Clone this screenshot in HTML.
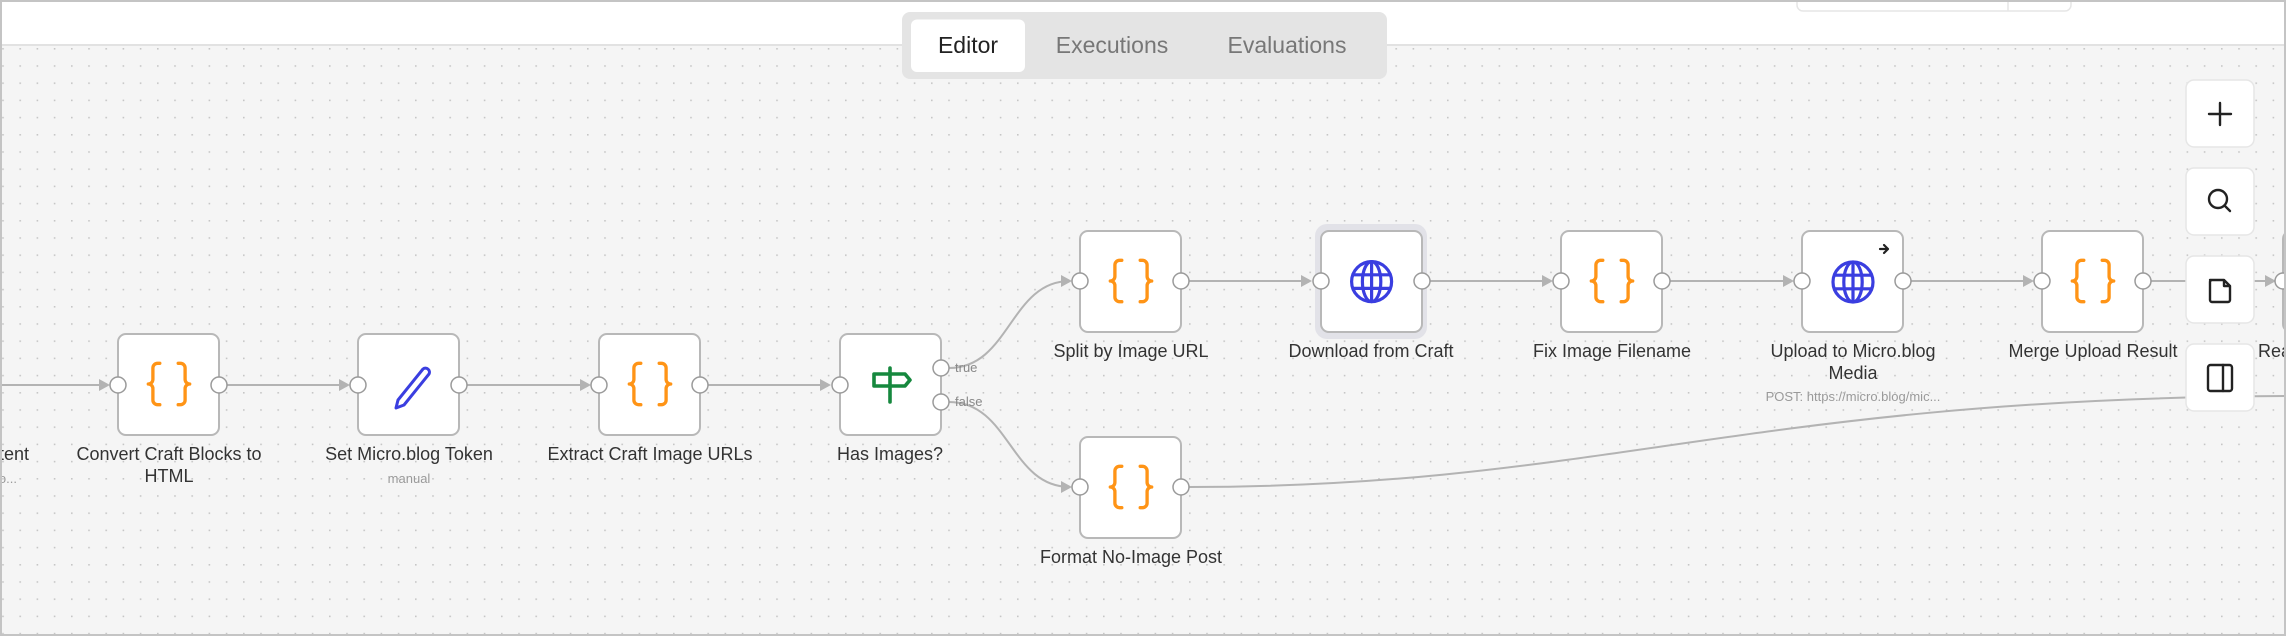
<!DOCTYPE html>
<html><head><meta charset="utf-8"><style>
html,body{margin:0;padding:0;width:2286px;height:636px;overflow:hidden;background:#fff}
svg{display:block;font-family:"Liberation Sans",sans-serif}
</style></head><body>
<svg width="2286" height="636" viewBox="0 0 2286 636" xmlns="http://www.w3.org/2000/svg">
<defs>
<pattern id="dots" x="2.2" y="48" width="17.2" height="17.2" patternUnits="userSpaceOnUse">
<rect x="0" y="0" width="1.6" height="1.6" fill="#c6c6c6"/>
</pattern>
<g id="braces" fill="none" stroke="#ff9416" stroke-width="1.45" stroke-linecap="round" stroke-linejoin="round">
<path d="M8 3H7a2 2 0 0 0-2 2v5a2 2 0 0 1-2 2 2 2 0 0 1 2 2v5c0 1.1.9 2 2 2h1"/>
<path d="M16 21h1a2 2 0 0 0 2-2v-5c0-1.1.9-2 2-2a2 2 0 0 1-2-2V5a2 2 0 0 0-2-2h-1"/>
</g>
<g id="globe" fill="none" stroke="#3a3ee0" stroke-width="1.6">
<circle cx="12" cy="12" r="10"/>
<ellipse cx="12" cy="12" rx="4.6" ry="10"/>
<path d="M12 2v20M2.6 8.6h18.8M2.6 15.4h18.8"/>
</g>
<path id="arr" d="M0 0 L-11 -6 L-11 6 Z" fill="#b3b3b3"/>
</defs>
<rect x="0" y="0" width="2286" height="636" fill="#f5f5f5"/>
<rect x="0" y="46" width="2286" height="590" fill="url(#dots)"/>
<rect x="0" y="0" width="2286" height="44" fill="#fff"/>
<rect x="0" y="44" width="2286" height="2" fill="#e2e2e2"/>
<rect x="1797" y="-10" width="274" height="21" rx="6" fill="#fff" stroke="#e6e6e6" stroke-width="1.5"/>
<line x1="2008" y1="0" x2="2008" y2="11" stroke="#e6e6e6" stroke-width="1.5"/>
<rect x="902" y="12" width="485" height="67" rx="8" fill="#e4e4e4"/>
<rect x="911" y="19.5" width="114" height="52.5" rx="6" fill="#fff"/>
<text x="968" y="53" font-size="23" fill="#222" text-anchor="middle">Editor</text>
<text x="1112" y="53" font-size="23" fill="#777" text-anchor="middle">Executions</text>
<text x="1287" y="53" font-size="23" fill="#777" text-anchor="middle">Evaluations</text>

<g fill="none" stroke="#b3b3b3" stroke-width="2">
<path d="M0 385H108"/>
<path d="M227 385H348"/>
<path d="M467 385H589"/>
<path d="M708 385H829"/>
<path d="M949 368 C1010 368 1010 281 1070 281"/>
<path d="M949 402 C1010 402 1010 487 1070 487"/>
<path d="M1189 281H1310"/>
<path d="M1429 281H1551"/>
<path d="M1670 281H1792"/>
<path d="M1911 281H2032"/>
<path d="M2151 281H2274"/>
<path d="M1189 487 C1600 487 1750 398 2290 396"/>
</g>
<use href="#arr" x="110" y="385"/>
<use href="#arr" x="350" y="385"/>
<use href="#arr" x="591" y="385"/>
<use href="#arr" x="831" y="385"/>
<use href="#arr" x="1072" y="281"/>
<use href="#arr" x="1072" y="487"/>
<use href="#arr" x="1312" y="281"/>
<use href="#arr" x="1553" y="281"/>
<use href="#arr" x="1794" y="281"/>
<use href="#arr" x="2034" y="281"/>
<use href="#arr" x="2276" y="281"/>

<rect x="1315" y="224" width="112" height="115" rx="12" fill="#e2e2e8"/>

<g fill="#fff" stroke="#b8b8b8" stroke-width="2">
<rect x="118" y="334" width="101" height="101" rx="8"/>
<rect x="358" y="334" width="101" height="101" rx="8"/>
<rect x="599" y="334" width="101" height="101" rx="8"/>
<rect x="840" y="334" width="101" height="101" rx="8"/>
<rect x="1080" y="231" width="101" height="101" rx="8"/>
<rect x="1321" y="231" width="101" height="101" rx="8"/>
<rect x="1561" y="231" width="101" height="101" rx="8"/>
<rect x="1802" y="231" width="101" height="101" rx="8"/>
<rect x="2042" y="231" width="101" height="101" rx="8"/>
<rect x="2283" y="231" width="101" height="101" rx="8"/>
<rect x="1080" y="437" width="101" height="101" rx="8"/>
</g>
<g fill="#fff" stroke="#9a9a9a" stroke-width="1.5">
<circle cx="118" cy="385" r="8"/><circle cx="219" cy="385" r="8"/>
<circle cx="358" cy="385" r="8"/><circle cx="459" cy="385" r="8"/>
<circle cx="599" cy="385" r="8"/><circle cx="700" cy="385" r="8"/>
<circle cx="840" cy="385" r="8"/><circle cx="941" cy="368" r="8"/><circle cx="941" cy="402" r="8"/>
<circle cx="1080" cy="281" r="8"/><circle cx="1181" cy="281" r="8"/>
<circle cx="1321" cy="281" r="8"/><circle cx="1422" cy="281" r="8"/>
<circle cx="1561" cy="281" r="8"/><circle cx="1662" cy="281" r="8"/>
<circle cx="1802" cy="281" r="8"/><circle cx="1903" cy="281" r="8"/>
<circle cx="2042" cy="281" r="8"/><circle cx="2143" cy="281" r="8"/>
<circle cx="2283" cy="281" r="8"/>
<circle cx="1080" cy="487" r="8"/><circle cx="1181" cy="487" r="8"/>
</g>
<text x="955" y="372" font-size="13" fill="#888">true</text>
<text x="955" y="406" font-size="13" fill="#888">false</text>

<use href="#braces" transform="translate(141.4,356.4) scale(2.3)"/>
<use href="#braces" transform="translate(622.4,356.4) scale(2.3)"/>
<use href="#braces" transform="translate(1103.4,253.4) scale(2.3)"/>
<use href="#braces" transform="translate(1584.4,253.4) scale(2.3)"/>
<use href="#braces" transform="translate(2065.4,253.4) scale(2.3)"/>
<use href="#braces" transform="translate(1103.4,459.4) scale(2.3)"/>
<use href="#globe" transform="translate(1347.6,257.6) scale(2)"/>
<use href="#globe" transform="translate(1829,258) scale(2)"/>
<path d="M1880 249h8M1884 245l4 4-4 4" fill="none" stroke="#222" stroke-width="2.2" stroke-linecap="round" stroke-linejoin="round"/>
<path d="M423 369 a4 4 0 0 1 6 5 L404 405 l-8 3 l2 -8 Z" fill="none" stroke="#3a3ee0" stroke-width="3" stroke-linejoin="round"/>
<g fill="none" stroke="#16883e" stroke-width="3.6" stroke-linejoin="round" stroke-linecap="round">
<path d="M890 368V402"/>
<path d="M874 374H905L910 380L905 386H874Z"/>
</g>

<g font-size="18" fill="#333" text-anchor="middle">
<text x="29" y="460" text-anchor="end">tent</text>
<text x="169" y="460">Convert Craft Blocks to</text>
<text x="169" y="482">HTML</text>
<text x="409" y="460">Set Micro.blog Token</text>
<text x="650" y="460">Extract Craft Image URLs</text>
<text x="890" y="460">Has Images?</text>
<text x="1131" y="357">Split by Image URL</text>
<text x="1371" y="357">Download from Craft</text>
<text x="1612" y="357">Fix Image Filename</text>
<text x="1853" y="357">Upload to Micro.blog</text>
<text x="1853" y="379">Media</text>
<text x="2093" y="357">Merge Upload Result</text>
<text x="2258" y="357" text-anchor="start">Ready to Post</text>
<text x="1131" y="563">Format No-Image Post</text>
</g>
<g font-size="13" fill="#9a9a9a" text-anchor="middle">
<text x="17" y="483" text-anchor="end">do...</text>
<text x="409" y="483">manual</text>
<text x="1853" y="401">POST: https://micro.blog/mic...</text>
</g>

<g fill="#fff" stroke="#e6e6e6" stroke-width="1.5">
<rect x="2186" y="80" width="68" height="67" rx="8"/>
<rect x="2186" y="168" width="68" height="67" rx="8"/>
<rect x="2186" y="256" width="68" height="67" rx="8"/>
<rect x="2186" y="344" width="68" height="67" rx="8"/>
</g>
<g fill="none" stroke="#222" stroke-width="2.4" stroke-linecap="round" stroke-linejoin="round">
<path d="M2220 103v22M2209 114h22"/>
<circle cx="2218" cy="199" r="9"/><path d="M2225 206l5 5"/>
<path d="M2210 280h14l6 6v14a2 2 0 0 1-2 2h-16a2 2 0 0 1-2-2v-18a2 2 0 0 1 2-2zM2224 280v6h6"/>
<rect x="2208" y="365" width="24" height="26" rx="2.5"/><path d="M2223 365v26"/>
</g>
<rect x="2284" y="46" width="2" height="590" fill="#c8c8c8"/>
<rect x="1" y="1" width="2284" height="634" fill="none" stroke="#c4c4c4" stroke-width="2"/>
</svg>
</body></html>
